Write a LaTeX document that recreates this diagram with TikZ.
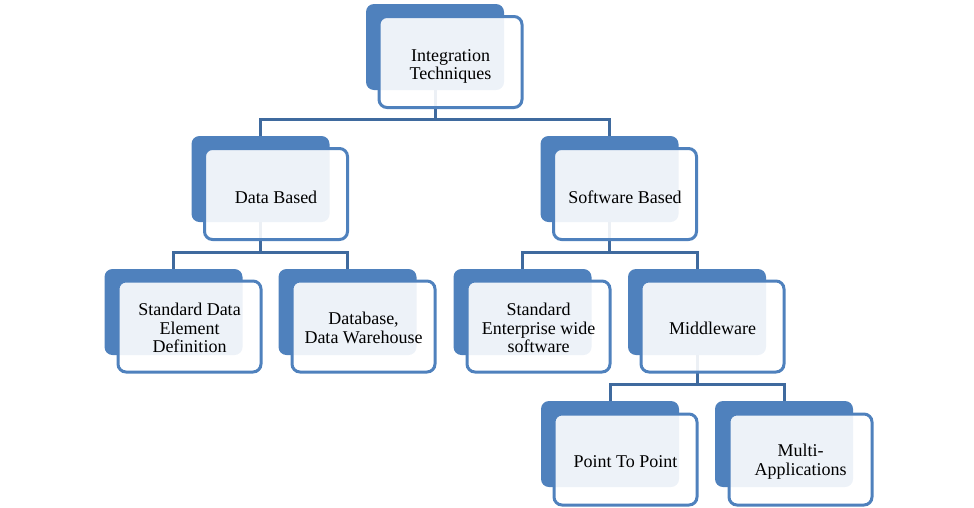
\documentclass[tikz,border=0pt]{standalone}
\usepackage{fontspec}
\setmainfont{Liberation Serif}
\definecolor{accent}{HTML}{4F81BD}
\definecolor{conn}{HTML}{3F6A9E}
\tikzset{
  backbox/.style={fill=accent, draw=none, rounded corners=8pt, minimum width=138pt, minimum height=86pt, inner sep=0pt},
  frontbox/.style={draw=accent, line width=3pt, fill=white, fill opacity=0.9, rounded corners=8pt,
     minimum width=143pt, minimum height=91pt, inner sep=0pt},
  boxtext/.style={align=center, inner sep=0pt, font=\fontsize{18pt}{18.5pt}\selectfont},
  connector/.style={draw=conn, line width=3pt}
}
\begin{document}
\begin{tikzpicture}[x=1pt,y=-1pt]
\useasboundingbox (0,0) rectangle (974,507);
% back boxes
\node[backbox] (b0) at (435,47) {};
\node[backbox] (b1) at (260.5,179) {};
\node[backbox] (b2) at (609.5,179) {};
\node[backbox] (b3) at (173.5,312) {};
\node[backbox] (b4) at (347.5,312) {};
\node[backbox] (b5) at (522.5,312) {};
\node[backbox] (b6) at (697,312) {};
\node[backbox] (b7) at (610,444) {};
\node[backbox] (b8) at (784,444) {};
% connectors
\draw[connector] (b0.south) -- ++(0,29) -| (b1.north);
\draw[connector] (b0.south) -- ++(0,29) -| (b2.north);
\draw[connector] (b1.south) -- ++(0,30) -| (b3.north);
\draw[connector] (b1.south) -- ++(0,30) -| (b4.north);
\draw[connector] (b2.south) -- ++(0,30) -| (b5.north);
\draw[connector] (b2.south) -- ++(0,30) -| (b6.north);
\draw[connector] (b6.south) -- ++(0,29) -| (b7.north);
\draw[connector] (b6.south) -- ++(0,29) -| (b8.north);
% front boxes
\node[frontbox] (f0) at (450.5,62) {};
\node[frontbox] (f1) at (276,194) {};
\node[frontbox] (f2) at (625,194) {};
\node[frontbox] (f3) at (189.5,326.5) {};
\node[frontbox] (f4) at (363.5,326.5) {};
\node[frontbox] (f5) at (538.5,326.5) {};
\node[frontbox] (f6) at (712.5,326.5) {};
\node[frontbox] (f7) at (625.5,459.5) {};
\node[frontbox] (f8) at (800.5,459.5) {};
% texts
\node[boxtext] (t0) at ([yshift=-4.5pt]f0.center) {Integration\\Techniques};
\node[boxtext] (t1) at ([yshift=-3.5pt]f1.center) {Data Based};
\node[boxtext] (t2) at ([yshift=-3.5pt]f2.center) {Software Based};
\node[boxtext] (t3) at ([yshift=-1.5pt]f3.center) {Standard Data\\Element\\Definition};
\node[boxtext] (t4) at ([yshift=-1.5pt]f4.center) {Database,\\Data Warehouse};
\node[boxtext] (t5) at ([yshift=-1.5pt]f5.center) {Standard\\Enterprise wide\\software};
\node[boxtext] (t6) at ([yshift=-2pt]f6.center) {Middleware};
\node[boxtext] (t7) at ([yshift=-2pt]f7.center) {Point To Point};
\node[boxtext] (t8) at ([yshift=-2pt]f8.center) {Multi-\\Applications};
\end{tikzpicture}
\end{document}
